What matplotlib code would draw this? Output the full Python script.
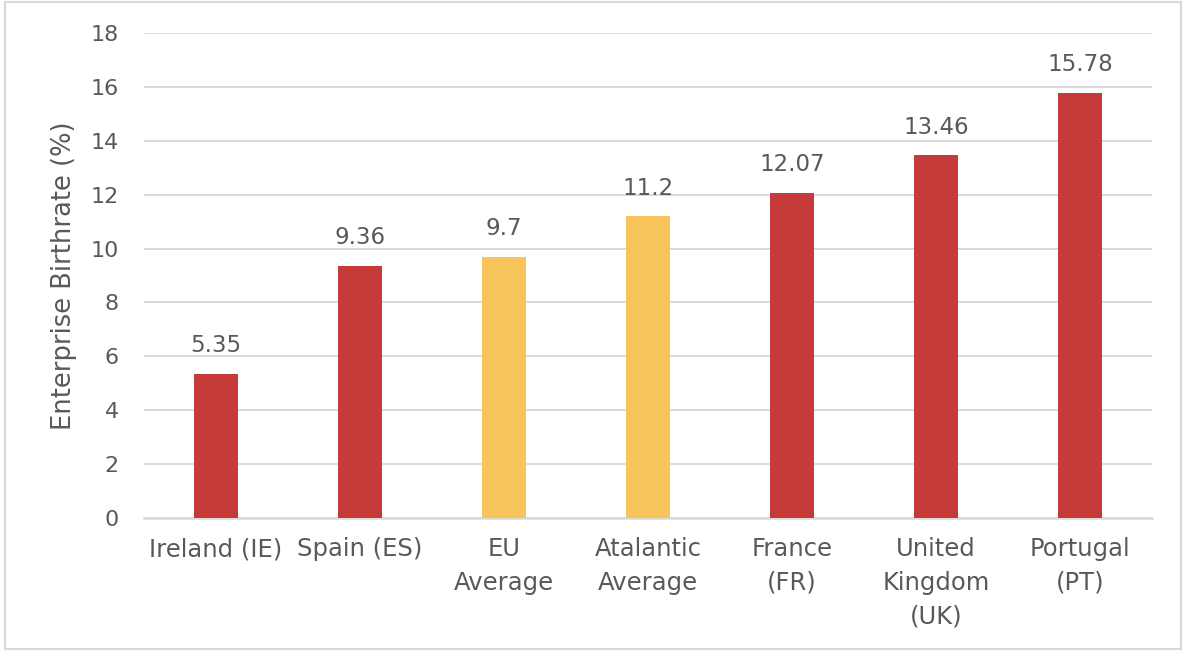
import matplotlib.pyplot as plt
from matplotlib.patches import Rectangle

# Enterprise birthrate by country / average
categories = ['Ireland (IE)', 'Spain (ES)', 'EU\nAverage', 'Atalantic\nAverage',
              'France\n(FR)', 'United\nKingdom\n(UK)', 'Portugal\n(PT)']
values = [5.35, 9.36, 9.7, 11.2, 12.07, 13.46, 15.78]
value_labels = ['5.35', '9.36', '9.7', '11.2', '12.07', '13.46', '15.78']
is_average = [False, False, True, True, False, False, False]

RED = '#C73A3A'
YELLOW = '#F7C55B'
TEXT = '#595959'
GRID = '#D9D9D9'

plt.rcParams['font.family'] = ['DejaVu Sans']

fig = plt.figure(figsize=(11.84, 6.53), dpi=100)
ax = fig.add_axes([0.1216, 0.2067, 0.8514, 0.7428])

colors = [YELLOW if a else RED for a in is_average]
x = list(range(len(categories)))
bars = ax.bar(x, values, width=0.31, color=colors, zorder=3)

for b, lab in zip(bars, value_labels):
    ax.annotate(lab, xy=(b.get_x() + b.get_width() / 2, b.get_height()),
                xytext=(0, 12), textcoords='offset points',
                ha='center', va='bottom', fontsize=16.5, color=TEXT)

ax.set_xlim(-0.5, len(categories) - 0.5)
ax.set_ylim(0, 18)
ax.set_yticks(range(0, 19, 2))
ax.set_xticks(x)
ax.set_xticklabels(categories, linespacing=1.5, fontsize=17.5)
ax.tick_params(axis='both', length=0, labelcolor=TEXT)
ax.tick_params(axis='y', pad=18, labelsize=16)
ax.tick_params(axis='x', pad=14)

ax.grid(axis='y', color=GRID, linewidth=1.4, zorder=0)
for s in ('top', 'right', 'left'):
    ax.spines[s].set_visible(False)
ax.spines['bottom'].set_color(GRID)
ax.spines['bottom'].set_linewidth(1.8)

ax.set_ylabel('Enterprise Birthrate (%)', fontsize=18.5, color=TEXT, labelpad=10)

# light frame around the whole chart
fig.patches.append(Rectangle((5 / 1184, 4 / 653), 1176 / 1184, 647 / 653,
                             transform=fig.transFigure, fill=False,
                             edgecolor='#D9D9D9', linewidth=1.5))

fig.savefig('out.png', dpi=100)
